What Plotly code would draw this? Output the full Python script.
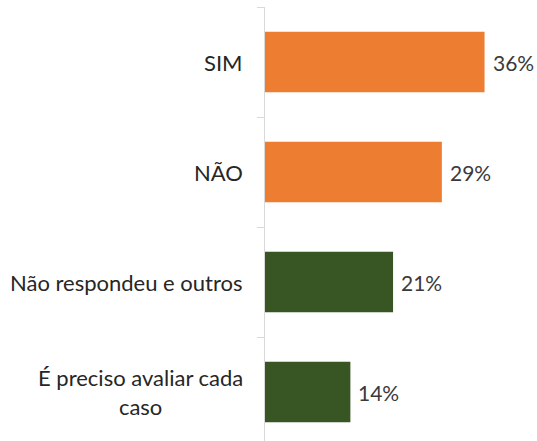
import plotly.graph_objects as go

categories = ["SIM", "NÃO", "Não respondeu e outros", "É preciso avaliar cada<br>caso"]
values = [36, 29, 21, 14]
bar_colors = ["#ED7D31", "#ED7D31", "#375623", "#375623"]
value_labels = [f"{v}%" for v in values]

font_family = "Lato, 'Open Sans', sans-serif"

fig = go.Figure(
    go.Bar(
        x=values,
        y=categories,
        orientation="h",
        marker=dict(color=bar_colors, line=dict(width=0)),
        width=0.55,
        hoverinfo="x+y",
    )
)

# Category names drawn as right-anchored, centre-aligned labels beside the axis
for cat in categories:
    fig.add_annotation(
        x=0, y=cat, xref="x", yref="y",
        text=cat, showarrow=False,
        xanchor="right", yanchor="middle", align="center",
        xshift=-20,
        font=dict(family=font_family, size=22, color="#262626"),
    )

# Percentage labels just past the end of each bar
for cat, val, lab in zip(categories, values, value_labels):
    fig.add_annotation(
        x=val, y=cat, xref="x", yref="y",
        text=lab, showarrow=False,
        xanchor="left", yanchor="middle",
        xshift=6,
        font=dict(family=font_family, size=21, color="#3a3a3a"),
    )

fig.update_layout(
    width=537, height=441,
    margin=dict(l=265, r=0, t=7, b=0),
    paper_bgcolor="white", plot_bgcolor="white",
    showlegend=False,
    bargap=0.45,
)
fig.update_xaxes(
    range=[0, 44.6], visible=False, showgrid=False, zeroline=False,
)
fig.update_yaxes(
    range=[3.445, -0.5],
    showticklabels=False,
    showline=True, linecolor="#d9d9d9", linewidth=1,
    ticks="outside", tickson="boundaries", ticklen=7, tickcolor="#d9d9d9",
    showgrid=False, zeroline=False,
)

fig.write_html("out.html")
